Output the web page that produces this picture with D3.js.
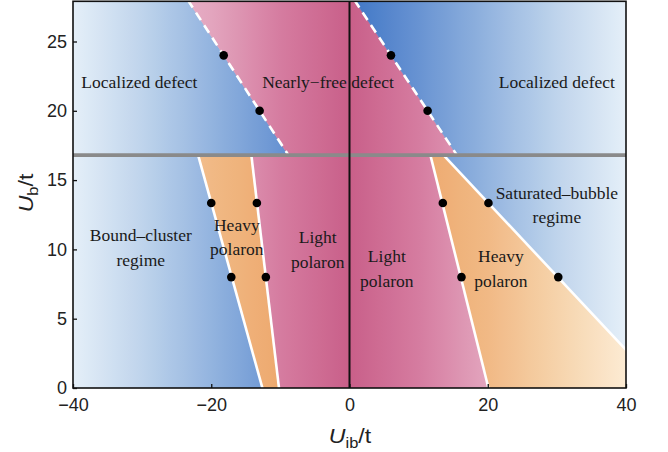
<!DOCTYPE html>
<html><head><meta charset="utf-8">
<script src="https://cdn.jsdelivr.net/npm/d3@7"></script>
<style>
body{margin:0;background:#fff;}
svg{display:block;}
</style></head>
<body><svg id="chart" width="668" height="452"></svg>
<script>
// ---- data ----
const xDomain = [-40, 40];
const yDomain = [0, 27.9];
const xTicks = [-40, -20, 0, 20, 40];
const yTicks = [0, 5, 10, 15, 20, 25];
const crossoverUb = 16.8;            // grey horizontal line
// boundary lines: [Uib, Ub] endpoint pairs
const defectLeft  = [[-18.2, 24], [-13.0, 20]];
const defectRight = [[6.0, 24], [11.3, 20]];
const boundLine   = [[-21.9, 16.8], [-12.6, 0]];
const heavyLeft   = [[-14.2, 16.8], [-10.2, 0]];
const lightRight  = [[11.7, 16.8], [20.1, 0]];
const bubbleLine  = [[13.6, 16.8], [40, 2.75]];
// computed points (black dots)
const dotsUib = [-18.2, -13.0, 6.0, 11.3, -20.0, -13.4, -17.1, -12.1, 13.5, 20.1, 16.2, 30.2];
const dotsUb  = [24, 20, 24, 20, 13.35, 13.35, 8, 8, 13.35, 13.35, 8, 8];
// region labels
const labelText = [["Localized defect"], ["Nearly\u2212free defect"], ["Localized defect"],
  ["Bound\u2013cluster", "regime"], ["Heavy", "polaron"], ["Light", "polaron"],
  ["Light", "polaron"], ["Heavy", "polaron"], ["Saturated\u2013bubble", "regime"]];
const labelUib = [-30.4, -3.1, 30.0, -30.2, -16.3, -4.6, 5.4, 21.9, 30.0];
const labelUb  = [21.68, 21.68, 21.68, 10.57, 11.36, 10.43, 9.08, 9.08, 13.67];

// ---- scales ----
const svg = d3.select("#chart");
const x = d3.scaleLinear().domain(xDomain).range([73, 626]);
const y = d3.scaleLinear().domain(yDomain).range([388, 1.3]);

function xAt(line, ub) {
  const [[x1, y1], [x2, y2]] = line;
  return x1 + (x2 - x1) * (ub - y1) / (y2 - y1);
}
function yAtX(line, uib) {
  const [[x1, y1], [x2, y2]] = line;
  return y1 + (y2 - y1) * (uib - x1) / (x2 - x1);
}

// colour ramps as function of |Uib|
const blue = d3.scaleLinear().domain([0, 10, 20, 30, 40])
  .range(["#3f76c6", "#6893d2", "#93b4df", "#bfd4ec", "#e5eff8"]);
const pink = d3.scaleLinear().domain([0, 10, 20, 25, 40])
  .range(["#c95f89", "#d57ca0", "#e3a5be", "#e8b1c7", "#e8b1c7"]);
const orange = d3.scaleLinear().domain([0, 10, 20, 30, 40])
  .range(["#eba86b", "#eda96e", "#f1b985", "#f6d3ab", "#fcebd3"]);

const defs = svg.append("defs");
function grad(id, ramp) {
  const g = defs.append("linearGradient").attr("id", id)
    .attr("gradientUnits", "userSpaceOnUse")
    .attr("x1", x(-40)).attr("x2", x(40)).attr("y1", 0).attr("y2", 0);
  d3.range(-40, 40.01, 2).forEach(v => {
    g.append("stop").attr("offset", (v + 40) / 80).attr("stop-color", ramp(Math.abs(v)));
  });
}
grad("gBlue", blue); grad("gPink", pink); grad("gOrange", orange);
defs.append("clipPath").attr("id", "plotClip").append("rect")
  .attr("x", x(-40)).attr("y", y(yDomain[1])).attr("width", x(40) - x(-40)).attr("height", y(0) - y(yDomain[1]));

const yTop = yDomain[1], c = crossoverUb;
const bubbleEdge = yAtX(bubbleLine, 40);
const regions = [
  {fill: "gBlue", pts: [[-40, c], [-40, yTop], [xAt(defectLeft, yTop), yTop], [xAt(defectLeft, c), c]]},
  {fill: "gPink", pts: [[xAt(defectLeft, yTop), yTop], [xAt(defectRight, yTop), yTop], [xAt(defectRight, c), c], [xAt(defectLeft, c), c]]},
  {fill: "gBlue", pts: [[xAt(defectRight, yTop), yTop], [40, yTop], [40, c], [xAt(defectRight, c), c]]},
  {fill: "gBlue", pts: [[-40, 0], [-40, c], [xAt(boundLine, c), c], [xAt(boundLine, 0), 0]]},
  {fill: "gOrange", pts: [[xAt(boundLine, c), c], [xAt(heavyLeft, c), c], [xAt(heavyLeft, 0), 0], [xAt(boundLine, 0), 0]]},
  {fill: "gPink", pts: [[xAt(heavyLeft, c), c], [xAt(lightRight, c), c], [xAt(lightRight, 0), 0], [xAt(heavyLeft, 0), 0]]},
  {fill: "gOrange", pts: [[xAt(lightRight, c), c], [xAt(bubbleLine, c), c], [40, bubbleEdge], [40, 0], [xAt(lightRight, 0), 0]]},
  {fill: "gBlue", pts: [[xAt(bubbleLine, c), c], [40, c], [40, bubbleEdge]]}
];
const plot = svg.append("g").attr("clip-path", "url(#plotClip)");
const lineGen = d3.line().x(d => x(d[0])).y(d => y(d[1]));
plot.selectAll("path.region").data(regions).join("path").attr("class", "region")
  .attr("d", d => lineGen(d.pts) + "Z").attr("fill", d => `url(#${d.fill})`)
  .attr("stroke", d => `url(#${d.fill})`).attr("stroke-width", 0.6);

// dashed boundaries (upper)
[defectLeft, defectRight].forEach(l => {
  plot.append("path").attr("d", lineGen([[xAt(l, yTop + 1), yTop + 1], [xAt(l, c), c]]))
    .attr("stroke", "#fff").attr("stroke-width", 2.6).attr("stroke-dasharray", "9,6").attr("fill", "none");
});
// solid boundaries (lower)
[boundLine, heavyLeft, lightRight].forEach(l => {
  plot.append("path").attr("d", lineGen([[xAt(l, c), c], [xAt(l, -1), -1]]))
    .attr("stroke", "#fff").attr("stroke-width", 2.6).attr("fill", "none");
});
plot.append("path").attr("d", lineGen([[xAt(bubbleLine, c), c], [41, yAtX(bubbleLine, 41)]]))
  .attr("stroke", "#fff").attr("stroke-width", 2.6).attr("fill", "none");

// grey crossover line
plot.append("line").attr("x1", x(-40)).attr("x2", x(40)).attr("y1", y(c)).attr("y2", y(c))
  .attr("stroke", "#8a8a8a").attr("stroke-width", 3.6);
// vertical zero line
plot.append("line").attr("x1", x(0)).attr("x2", x(0)).attr("y1", y(0)).attr("y2", y(yTop))
  .attr("stroke", "#111").attr("stroke-width", 2);

// dots
plot.selectAll("circle.dot").data(dotsUib).join("circle").attr("class", "dot")
  .attr("cx", d => x(d)).attr("cy", (d, i) => y(dotsUb[i])).attr("r", 4.3).attr("fill", "#000");

// labels
const lab = svg.append("g").attr("font-family", "'Liberation Serif', 'Times New Roman', serif")
  .attr("font-size", 17.5).attr("fill", "#1a1a1a").attr("text-anchor", "middle");
labelText.forEach((lines, i) => {
  const t = lab.append("text")
    .attr("transform", `translate(${x(labelUib[i])},${y(labelUb[i])})`);
  lines.forEach((s, j) => t.append("tspan").attr("x", 0).attr("dy", j === 0 ? 0 : 24.5).text(s));
});

// frame
svg.append("rect").attr("x", x(-40)).attr("y", y(yTop)).attr("width", x(40) - x(-40)).attr("height", y(0) - y(yTop))
  .attr("fill", "none").attr("stroke", "#111").attr("stroke-width", 1.6);

// axes
const ax = svg.append("g").attr("transform", `translate(0,${y(0)})`)
  .call(d3.axisBottom(x).tickValues(xTicks).tickSizeInner(-4).tickSizeOuter(0).tickPadding(10));
const ay = svg.append("g").attr("transform", `translate(${x(-40)},0)`)
  .call(d3.axisLeft(y).tickValues(yTicks).tickSizeInner(-4).tickSizeOuter(0).tickPadding(6));
[ax, ay].forEach(a => {
  a.select(".domain").remove();
  a.selectAll("line").attr("stroke", "#111").attr("stroke-width", 1.3);
  a.selectAll("text").attr("font-family", "'Liberation Sans', Arial, sans-serif").attr("font-size", 18)
    .attr("fill", "#222");
});

// axis titles
const xt = svg.append("text").attr("transform", "translate(350,443) scale(1.1,1)").attr("text-anchor", "middle")
  .attr("font-family", "'Liberation Sans', Arial, sans-serif").attr("font-size", 21).attr("fill", "#222");
xt.append("tspan").attr("font-style", "italic").text("U");
xt.append("tspan").attr("font-size", 15).attr("dy", 5).text("ib");
xt.append("tspan").attr("dy", -5).text("/t");
const yt = svg.append("text").attr("transform", "translate(33,193) rotate(-90) scale(1.1,1)").attr("text-anchor", "middle")
  .attr("font-family", "'Liberation Sans', Arial, sans-serif").attr("font-size", 21).attr("fill", "#222");
yt.append("tspan").attr("font-style", "italic").text("U");
yt.append("tspan").attr("font-size", 15).attr("dy", 5).text("b");
yt.append("tspan").attr("dy", -5).text("/t");
</script></body></html>
